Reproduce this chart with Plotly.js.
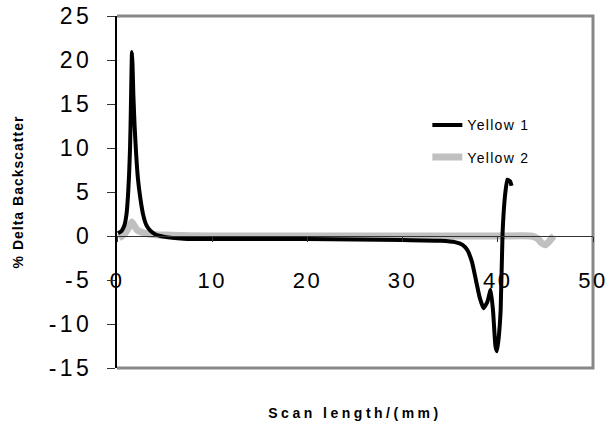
<!DOCTYPE html>
<html>
<head>
<meta charset="utf-8">
<script src="https://cdn.plot.ly/plotly-3.0.1.min.js"></script>
<style>
  html, body { margin: 0; padding: 0; background: #fff; }
  #chart { width: 608px; height: 425px; }
  .ytick text { letter-spacing: 3.5px; }
  .xtick text { letter-spacing: 2.5px; }
  .xtitle { letter-spacing: 3.5px; }
  .ytitle { letter-spacing: 1px; }
  .legendtext { letter-spacing: 1.3px; }
</style>
</head>
<body>
<div id="chart"></div>
<script>
// Yellow 1 (black)
const yellow1X = [0.1, 0.5, 0.8, 1.0, 1.15, 1.27, 1.37, 1.45, 1.52, 1.57, 1.63, 1.72, 1.85, 2.0, 2.2, 2.45, 2.75, 3.1, 3.5, 4.0, 5, 7, 10, 15, 20, 25, 30, 34, 35.5, 36.3, 36.8, 37.3, 37.7, 38.1, 38.5, 38.9, 39.25, 39.5, 39.75, 39.9, 40.1, 40.3, 40.5, 40.75, 41.0, 41.3, 41.45];
const yellow1Y = [0.3, 0.6, 1.3, 2.5, 4.5, 7, 10, 14, 18.5, 20.9, 19.5, 16, 12.5, 9.5, 6.5, 4.3, 2.4, 1.2, 0.6, 0.2, -0.1, -0.3, -0.35, -0.35, -0.35, -0.4, -0.45, -0.55, -0.7, -1.0, -1.6, -3.0, -5.0, -7.0, -8.2, -7.5, -6.1, -8.5, -12.5, -13.1, -11.5, -8.4, 0.3, 4.5, 6.4, 6.2, 5.7];
// Yellow 2 (gray)
const yellow2X = [0.2, 0.5, 0.85, 1.2, 1.55, 1.8, 2.1, 2.8, 3.5, 5, 10, 20, 30, 40, 43.5, 44.2, 44.6, 45.0, 45.4, 45.7, 45.9];
const yellow2Y = [-0.2, 0.0, 0.3, 0.9, 1.6, 1.2, 0.7, 0.35, 0.2, 0.1, 0.0, 0.0, 0.0, 0.0, 0.0, -0.3, -0.8, -1.0, -0.6, -0.2, 0.0];

const seriesNames = ['Yellow 1', 'Yellow 2'];
const xTickVals = [0, 10, 20, 30, 40, 50];
const yTickVals = [-15, -10, -5, 0, 5, 10, 15, 20, 25];

const traces = [
  { x: yellow2X, y: yellow2Y, name: seriesNames[1], type: 'scatter', mode: 'lines',
    line: { color: '#c0c0c0', width: 7, shape: 'spline', smoothing: 0.4 }, legendgroup: 'b', legendrank: 2 },
  { x: yellow1X, y: yellow1Y, name: seriesNames[0], type: 'scatter', mode: 'lines',
    line: { color: '#000000', width: 4, shape: 'spline', smoothing: 0.4 }, legendgroup: 'a', legendrank: 1 }
];

const layout = {
  width: 608, height: 425,
  margin: { l: 117, r: 15, t: 16, b: 57 },
  paper_bgcolor: '#ffffff', plot_bgcolor: '#ffffff',
  font: { family: 'Liberation Sans, Arial, sans-serif', color: '#000' },
  showlegend: true,
  legend: { x: 0.652, y: 0.735, xanchor: 'left', yanchor: 'top', bgcolor: 'rgba(0,0,0,0)',
            font: { size: 14, color: '#000' }, traceorder: 'grouped', tracegroupgap: 11 },
  xaxis: {
    range: [0, 50], tickvals: xTickVals, ticktext: xTickVals.map(String),
    anchor: 'free', position: 0.375,
    showgrid: false, zeroline: false,
    showline: true, linecolor: '#333', linewidth: 1,
    ticks: 'outside', ticklen: 5, tickcolor: '#333', tickwidth: 1,
    tickfont: { size: 22 }, ticklabelstandoff: 20, ticklabeloverflow: 'allow',
    title: { text: 'Scan length/(mm)', font: { size: 14, weight: 'bold' }, standoff: 115 }
  },
  yaxis: {
    range: [-15, 25], tickvals: yTickVals, ticktext: yTickVals.map(String),
    showgrid: false, zeroline: false,
    showline: true, linecolor: '#000', linewidth: 2,
    ticks: 'outside', ticklen: 8, tickcolor: '#333', tickwidth: 1,
    tickfont: { size: 23 }, ticklabelstandoff: 10, ticklabeloverflow: 'allow',
    title: { text: '% Delta Backscatter', font: { size: 14, weight: 'bold' }, standoff: 22 }
  },
  shapes: [
    { type: 'path', xref: 'paper', yref: 'paper', path: 'M 0 1 L 1 1 L 1 0 L 0 0',
      line: { color: '#888888', width: 3 }, layer: 'below' }
  ]
};

Plotly.newPlot('chart', traces, layout, { displayModeBar: false, staticPlot: true });
</script>
</body>
</html>
